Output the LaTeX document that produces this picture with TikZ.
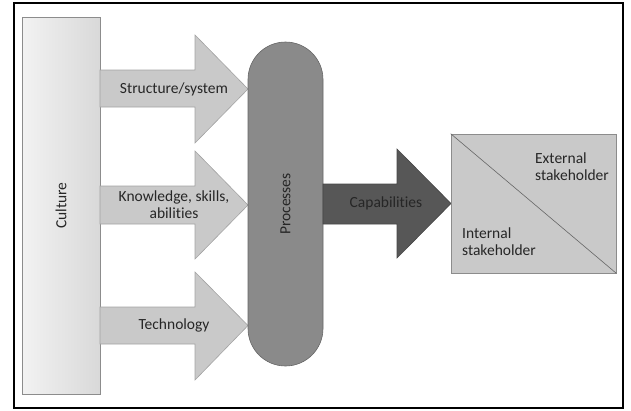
\documentclass[tikz,border=0pt]{standalone}
\usepackage{fontspec}
\setmainfont{Carlito}[Ligatures=NoCommon]
\usetikzlibrary{positioning,shapes}
\definecolor{lightbox}{HTML}{C9C9C9}
\definecolor{edgegray}{HTML}{8C8C8C}
\definecolor{procgray}{HTML}{8A8A8A}
\definecolor{capgray}{HTML}{575757}
\definecolor{textgray}{HTML}{262626}
\tikzset{
frame/.style={draw=black,line width=1.2pt},
block/.style={draw=edgegray,line width=0.6pt},
fat/.style={draw=edgegray!80,line width=0.6pt,fill=lightbox},
lbl/.style={font=\fontsize{15.5}{17}\selectfont,text=textgray,align=center,inner sep=0pt},
}
\begin{document}
\begin{tikzpicture}[x=1pt,y=-1pt]
    \useasboundingbox (0,0) rectangle (631,410);
    \draw[frame] (14,3) rectangle (623,408);

    \node[block,minimum width=78pt,minimum height=377pt,
          left color=black!5,right color=black!15] (culture) at (61,205.5) {};
    \node[lbl,rotate=90] (culturetext) at (culture.center) {Culture};

    % input arrows
    \filldraw[fat] (100,70) -- (195,70) -- (195,35) -- (248,89)
        -- (195,143) -- (195,107) -- (100,107) -- cycle;
    \filldraw[fat] (100,186) -- (195,186) -- (195,151) -- (248,205)
        -- (195,259) -- (195,224) -- (100,224) -- cycle;
    \filldraw[fat] (100,307) -- (195,307) -- (195,272) -- (248,325.5)
        -- (195,380) -- (195,344) -- (100,344) -- cycle;
    \node[lbl] (structure) at (174,89) {Structure/system};
    \node[lbl] (knowledge) at (174,205) {Knowledge, skills,\\abilities};
    \node[lbl] (technology) at (174,325) {Technology};

    \node[draw=black!60,line width=0.6pt,fill=procgray,rounded corners=37.5pt,
          minimum width=324pt,minimum height=75pt,rotate=90] (processes) at (285.5,204) {};
    \node[lbl,rotate=90] (processtext) at (processes.center) {Processes};

    % output
    \filldraw[draw=capgray!80!black,line width=0.6pt,fill=capgray]
        (323,184) -- (397,184) -- (397,149) -- (451,203.5)
        -- (397,258) -- (397,224) -- (323,224) -- cycle;
    \node[lbl] (capabilities) at (386,203) {Capabilities};

    \node[block,fill=lightbox,minimum width=165pt,minimum height=139pt,
          inner sep=0pt] (stake) at (533.5,203.5) {};
    \draw[draw=black!60,line width=0.6pt] (stake.north west) -- (stake.south east);
    \node[lbl,align=left] (external) at (572,167) {External\\stakeholder};
    \node[lbl,align=left] (internal) at (499,242) {Internal\\stakeholder};
\end{tikzpicture}
\end{document}
